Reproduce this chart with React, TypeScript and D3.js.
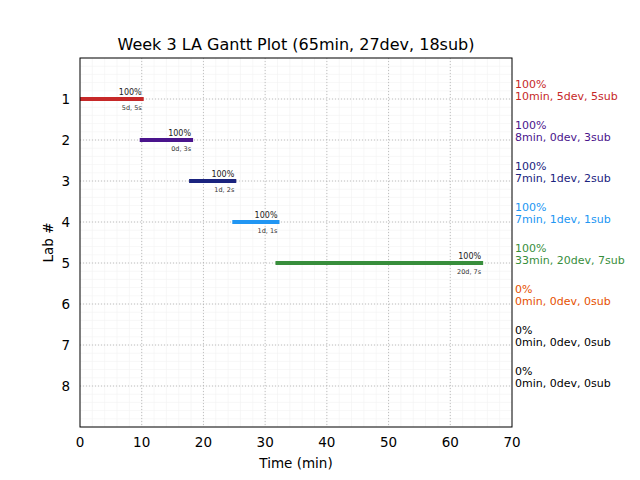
import React from 'react';
import * as d3 from 'd3';

const labs = [1, 2, 3, 4, 5, 6, 7, 8];
const starts = [0, 10, 18, 25, 32, 0, 0, 0];
const ends = [10, 18, 25, 32, 65, 0, 0, 0];
const percents = [100, 100, 100, 100, 100, 0, 0, 0];
const minutes = [10, 8, 7, 7, 33, 0, 0, 0];
const devs = [5, 0, 1, 1, 20, 0, 0, 0];
const subs = [5, 3, 2, 1, 7, 0, 0, 0];
const colors = ['#c62828', '#4a148c', '#1a237e', '#2196f3', '#388e3c', '#e65100', '#000000', '#000000'];
const xTicks = [0, 10, 20, 30, 40, 50, 60, 70];

const W = 640;
const H = 480;
const m = { left: 80, right: 128, top: 58, bottom: 53 };
const font = 'DejaVu Sans, sans-serif';

export default function App() {
  const x = d3.scaleLinear().domain([0, 70]).range([m.left, W - m.right]);
  const y = d3.scaleLinear().domain([0, 9]).range([m.top, H - m.bottom]);
  const minorX = d3.range(0, 70.01, 2);
  const minorY = d3.range(0, 9.01, 0.2);

  return (
    <svg width={W} height={H} style={{ position: 'absolute', left: 0, top: 0, background: '#fff' }}>
      <defs>
        <clipPath id="plot">
          <rect x={x(0)} y={y(0)} width={x(70) - x(0)} height={y(9) - y(0)} />
        </clipPath>
      </defs>
      <rect x={0} y={0} width={W} height={H} fill="#fff" />
      <g>
        {minorX.map((v, i) => (
          <line key={'mx' + i} x1={x(v)} x2={x(v)} y1={y(0)} y2={y(9)} stroke="#f2f2f2" strokeWidth={0.6} />
        ))}
        {minorY.map((v, i) => (
          <line key={'my' + i} x1={x(0)} x2={x(70)} y1={y(v)} y2={y(v)} stroke="#f2f2f2" strokeWidth={0.6} />
        ))}
        {xTicks.slice(1, -1).map((v) => (
          <line key={'gx' + v} x1={x(v)} x2={x(v)} y1={y(0)} y2={y(9)} stroke="#b0b0b0" strokeWidth={0.8} strokeDasharray="1,2" />
        ))}
        {labs.map((l) => (
          <line key={'gy' + l} x1={x(0)} x2={x(70)} y1={y(l)} y2={y(l)} stroke="#b0b0b0" strokeWidth={0.8} strokeDasharray="1,2" />
        ))}
      </g>
      <g clipPath="url(#plot)">
        {labs.map((l, i) =>
          ends[i] > starts[i] ? (
            <g key={'bar' + l}>
              <line x1={x(starts[i])} x2={x(ends[i])} y1={y(l)} y2={y(l)} stroke={colors[i]} strokeWidth={4} strokeLinecap="square" />
              <text x={x(ends[i])} y={y(l) - 4} textAnchor="end" fontFamily={font} fontSize={8} fill="#222">
                {percents[i]}%
              </text>
              <text x={x(ends[i])} y={y(l) + 11} textAnchor="end" fontFamily={font} fontSize={6.5} fill="#333">
                {devs[i]}d, {subs[i]}s
              </text>
            </g>
          ) : null
        )}
      </g>
      <rect x={x(0)} y={y(0)} width={x(70) - x(0)} height={y(9) - y(0)} fill="none" stroke="#000" strokeWidth={1} />
      {xTicks.map((v) => (
        <text key={'xt' + v} x={x(v)} y={H - m.bottom + 20} textAnchor="middle" fontFamily={font} fontSize={13.5}>
          {v}
        </text>
      ))}
      {labs.map((l) => (
        <text key={'yt' + l} x={x(0) - 10} y={y(l) + 5} textAnchor="end" fontFamily={font} fontSize={13.5}>
          {l}
        </text>
      ))}
      {labs.map((l, i) => (
        <g key={'rl' + l} fill={colors[i]} fontFamily={font} fontSize={11}>
          <text x={W - m.right + 3} y={y(l) - 11.5}>{percents[i]}%</text>
          <text x={W - m.right + 3} y={y(l) + 0.5}>
            {minutes[i]}min, {devs[i]}dev, {subs[i]}sub
          </text>
        </g>
      ))}
      <text x={(x(0) + x(70)) / 2} y={50} textAnchor="middle" fontFamily={font} fontSize={16}>
        Week 3 LA Gantt Plot ({d3.sum(minutes)}min, {d3.sum(devs)}dev, {d3.sum(subs)}sub)
      </text>
      <text x={(x(0) + x(70)) / 2} y={468} textAnchor="middle" fontFamily={font} fontSize={13.5}>
        Time (min)
      </text>
      <text transform={`translate(53,${(y(0) + y(9)) / 2}) rotate(-90)`} textAnchor="middle" fontFamily={font} fontSize={13.5}>
        Lab #
      </text>
    </svg>
  );
}
